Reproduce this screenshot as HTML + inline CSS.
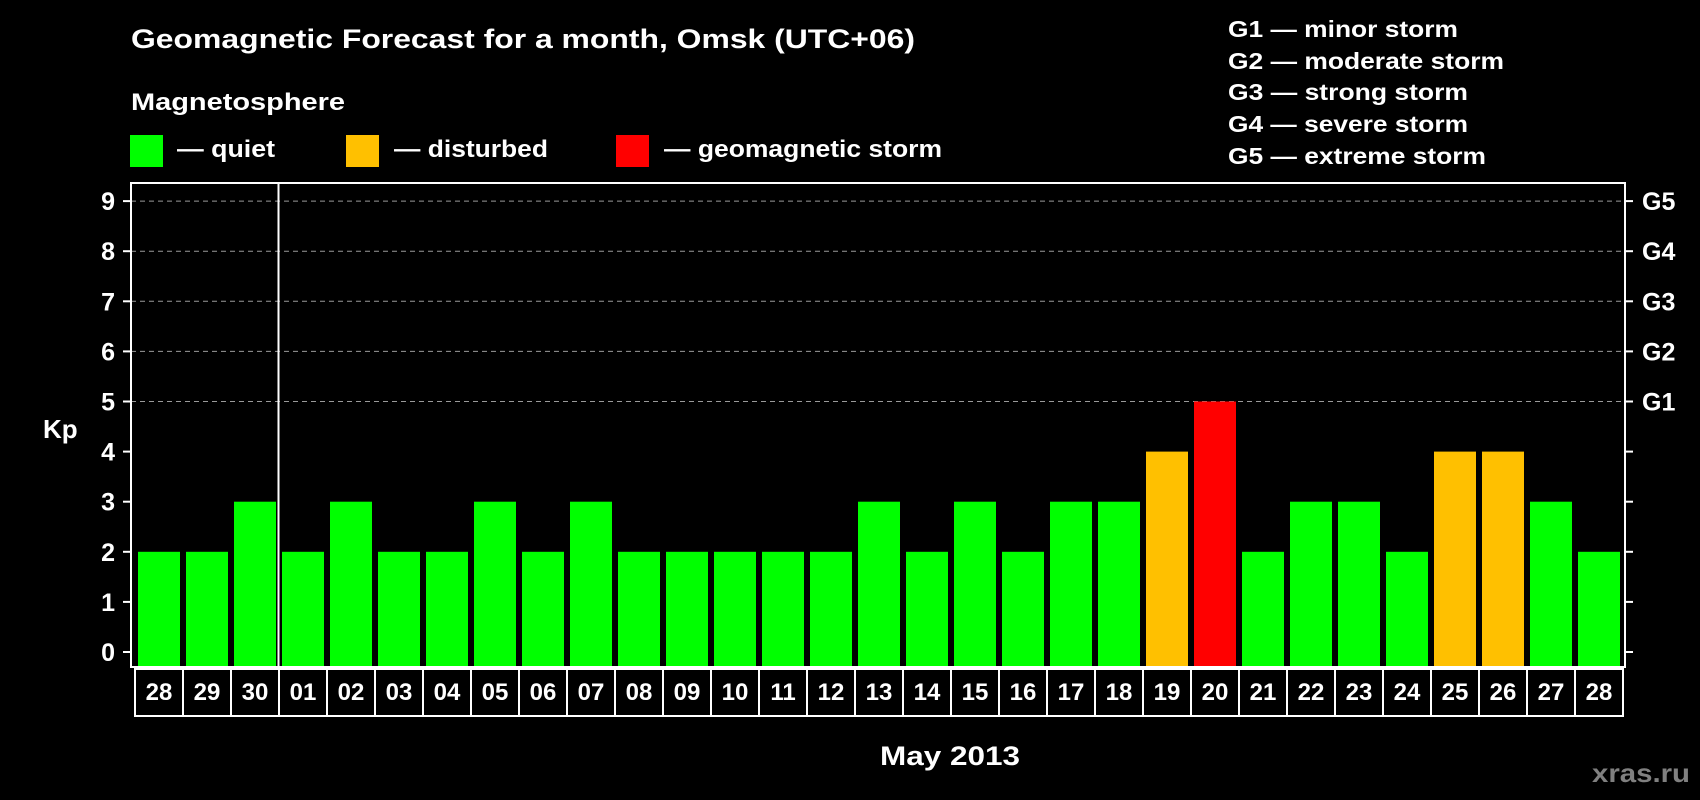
<!DOCTYPE html>
<html><head><meta charset="utf-8"><style>
html,body{margin:0;padding:0;background:#000;width:1700px;height:800px;overflow:hidden}
svg{display:block}
text{font-family:"Liberation Sans",Arial,sans-serif;font-weight:bold;fill:#fff}
</style></head><body>
<svg id="chart" width="1700" height="800" viewBox="0 0 1700 800" xmlns="http://www.w3.org/2000/svg">
<text x="131" y="48" font-size="27" textLength="784" lengthAdjust="spacingAndGlyphs">Geomagnetic Forecast for a month, Omsk (UTC+06)</text>
<text x="131" y="110" font-size="24" textLength="214" lengthAdjust="spacingAndGlyphs">Magnetosphere</text>
<rect x="130" y="135" width="33" height="32" fill="#00ff00"/>
<text x="177" y="157" font-size="24" textLength="98" lengthAdjust="spacingAndGlyphs">— quiet</text>
<rect x="346" y="135" width="33" height="32" fill="#ffc000"/>
<text x="394" y="157" font-size="24" textLength="154" lengthAdjust="spacingAndGlyphs">— disturbed</text>
<rect x="616" y="135" width="33" height="32" fill="#ff0000"/>
<text x="664" y="157" font-size="24" textLength="278" lengthAdjust="spacingAndGlyphs">— geomagnetic storm</text>
<g font-size="23">
<text x="1228" y="37" textLength="230" lengthAdjust="spacingAndGlyphs">G1 — minor storm</text>
<text x="1228" y="69" textLength="276" lengthAdjust="spacingAndGlyphs">G2 — moderate storm</text>
<text x="1228" y="100" textLength="240" lengthAdjust="spacingAndGlyphs">G3 — strong storm</text>
<text x="1228" y="132" textLength="240" lengthAdjust="spacingAndGlyphs">G4 — severe storm</text>
<text x="1228" y="164" textLength="258" lengthAdjust="spacingAndGlyphs">G5 — extreme storm</text>
</g>
<g id="plot"></g>
<text x="43" y="438" font-size="26">Kp</text>
<text x="880" y="765" font-size="27" textLength="140" lengthAdjust="spacingAndGlyphs">May 2013</text>
<text x="1592" y="782" font-size="26" style="fill:#808080" textLength="98" lengthAdjust="spacingAndGlyphs">xras.ru</text>
</svg>
<script>
const days = ["28","29","30","01","02","03","04","05","06","07","08","09","10","11","12","13","14","15","16","17","18","19","20","21","22","23","24","25","26","27","28"];
const kpValues = [2,2,3,2,3,2,2,3,2,3,2,2,2,2,2,3,2,3,2,3,3,4,5,2,3,3,2,4,4,3,2];
const yTicks = [0,1,2,3,4,5,6,7,8,9];
const gLabels = ["G1","G2","G3","G4","G5"];
const gLevels = [5,6,7,8,9];
const monthBreakIndex = 3;

const NS = "http://www.w3.org/2000/svg";
const g = document.getElementById("plot");
const L = 131, R = 1625, T = 183, B = 667;
const slot0 = 134, slotW = 48;
function y(v){ return 652 - v * 50.1; }
function x(i){ return slot0 + i * slotW; }
function mk(tag, attrs){ const e = document.createElementNS(NS, tag); for (const k in attrs) e.setAttribute(k, attrs[k]); g.appendChild(e); return e; }
function color(v){ return v >= 5 ? "#ff0000" : (v >= 4 ? "#ffc000" : "#00ff00"); }

gLevels.forEach((v, i) => {
  const ln = mk("line", {x1: L, x2: R, y1: y(v), y2: y(v), stroke: "#9a9a9a", "stroke-width": 1, "stroke-dasharray": "5,4"});
  
  
  const t = mk("text", {x: 1642, y: y(v) + 9, "font-size": 25});
  t.textContent = gLabels[i];
  
  
});
yTicks.forEach(v => {
  const tl = mk("line", {x1: 123, x2: L, y1: y(v), y2: y(v), stroke: "#fff", "stroke-width": 2});
  
  
  const tr = mk("line", {x1: R, x2: 1633, y1: y(v), y2: y(v), stroke: "#fff", "stroke-width": 2});
  
  
  const t = mk("text", {x: 115, y: y(v) + 9, "font-size": 25, "text-anchor": "end"});
  t.textContent = v;
  
  
});
kpValues.forEach((v, i) => {
  const r = mk("rect", {x: x(i) + 4, y: y(v), width: 42, height: B - y(v), fill: color(v)});
  
  
  const b = mk("rect", {x: 135 + i * slotW, y: 669, width: slotW, height: 47, fill: "none", stroke: "#fff", "stroke-width": 2});
  
  
  const t = mk("text", {x: 159 + i * slotW, y: 700, "font-size": 24, "text-anchor": "middle"});
  t.textContent = days[i];
  
  
});
const sep = mk("line", {x1: x(monthBreakIndex) + 0.5, x2: x(monthBreakIndex) + 0.5, y1: T, y2: B, stroke: "#fff", "stroke-width": 2});


const fr = mk("rect", {x: L, y: T, width: R - L, height: B - T, fill: "none", stroke: "#fff", "stroke-width": 2});


</script>
</body></html>
